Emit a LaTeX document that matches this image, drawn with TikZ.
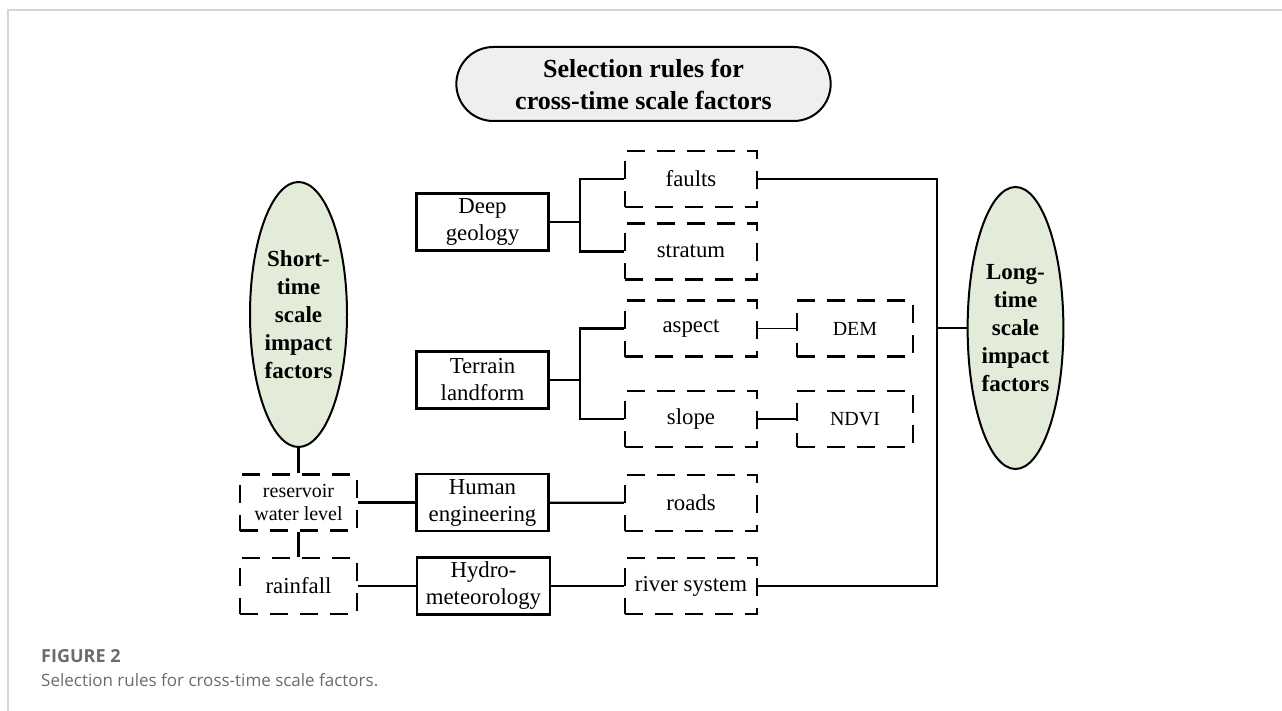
\documentclass[tikz,border=0pt]{standalone}
\usepackage{fontspec}
\setmainfont{Liberation Serif}
\newfontfamily\capfont{Open Sans}
\usepackage{xcolor}
\usepackage{tikz}
\usetikzlibrary{shapes,positioning,calc}

\definecolor{titlegray}{HTML}{EFEFEF}
\definecolor{ellgreen}{HTML}{E3ECD9}
\definecolor{framegray}{HTML}{D6D6D6}
\definecolor{capgray}{HTML}{6B6B6B}

\tikzset{
    solidbox/.style={draw, line width=2.2pt, minimum width=132pt, minimum height=57pt, inner sep=0pt, align=center, font=\fontsize{22.8}{27}\selectfont},
    dashbox/.style={draw, line width=2.2pt, dash pattern=on 18pt off 12pt, minimum width=132pt, minimum height=56pt, inner sep=0pt, align=center, font=\fontsize{22.8}{27}\selectfont},
    smallbox/.style={dashbox, minimum width=116pt, font=\fontsize{20}{22}\selectfont},
    scaleell/.style={draw, ellipse, line width=2pt, fill=ellgreen, inner sep=0pt, align=center, font=\bfseries\fontsize{23}{28}\selectfont},
    link/.style={line width=2.2pt},
}

\begin{document}
\begin{tikzpicture}[x=1pt, y=-1pt]
    \useasboundingbox (0,0) rectangle (1282,711);

    % Frame
    \draw[framegray, line width=1.3pt] (8,711) -- (8,10) -- (1282,10);

    % Title
    \node[draw, rounded rectangle, line width=2pt, fill=titlegray, minimum width=381pt, minimum height=74pt, align=center, font=\bfseries\fontsize{26}{32}\selectfont] (title) at (643.5,84) {Selection rules for\\cross-time scale factors};

    % Time scales
    \node[scaleell, minimum width=97pt, minimum height=265pt] (short) at (298.5,314.5) {Short-\\time\\scale\\impact\\factors};
    \node[scaleell, minimum width=93pt, minimum height=282pt] (long) at (1015.5,328) {Long-\\time\\scale\\impact\\factors};

    % Categories
    \node[solidbox] (deep) at (482.5,222) {Deep\\geology};
    \node[solidbox] (terrain) at (482.5,380) {Terrain\\landform};
    \node[solidbox] (human) at (482.5,502.5) {Human\\engineering};
    \node[solidbox, minimum width=133pt] (hydro) at (483.5,586) {Hydro-\\meteorology};

    % Factors
    \node[dashbox] (faults) at (691,179) {faults};
    \node[dashbox] (stratum) at (691,251.5) {stratum};
    \node[dashbox] (aspect) at (691,328.5) {aspect};
    \node[dashbox] (slope) at (691,419) {slope};
    \node[dashbox] (roads) at (691,503) {roads};
    \node[dashbox] (river) at (691,586) {river system};
    \node[smallbox] (dem) at (855,328.5) {DEM};
    \node[smallbox] (ndvi) at (855,419) {NDVI};
    \node[dashbox, minimum width=117pt, font=\fontsize{20}{23}\selectfont] (reservoir) at (298.5,502.5) {reservoir\\water level};
    \node[dashbox, minimum width=117pt] (rainfall) at (298.5,586) {rainfall};

    % Junctions
    \coordinate (jdeep) at (580,222);
    \coordinate (jterrain) at (580,380);
    \coordinate (jlong) at (937,328);

    % Connectors
    \draw[link] (deep) -- (jdeep);
    \draw[link] (faults.west) -| (jdeep) |- (stratum.west);
    \draw[link] (terrain) -- (jterrain);
    \draw[link] (aspect.west) -| (jterrain) |- (slope.west);
    \draw[line width=1.5pt] (aspect) -- (dem);
    \draw[line width=1.5pt] (slope) -- (ndvi);
    \draw[link] (faults.east) -| (jlong) |- (river.east);
    \draw[link] (jlong) -- (long);
    \draw[link] (reservoir) -- (human);
    \draw[link] (human) -- (roads);
    \draw[link] (rainfall) -- (hydro);
    \draw[link] (hydro) -- (river);
    \draw[link] (short) -- (reservoir);
    \draw[link] (reservoir) -- (rainfall);

    % Caption
    \node[anchor=base west, inner sep=0pt, text=capgray, font=\capfont\bfseries\fontsize{18}{20}\selectfont] (fig) at (41,662) {FIGURE 2};
    \node[anchor=base west, inner sep=0pt, text=capgray, font=\capfont\fontsize{17}{20}\selectfont] (cap) at (41,686) {Selection rules for cross-time scale factors.};
\end{tikzpicture}
\end{document}
